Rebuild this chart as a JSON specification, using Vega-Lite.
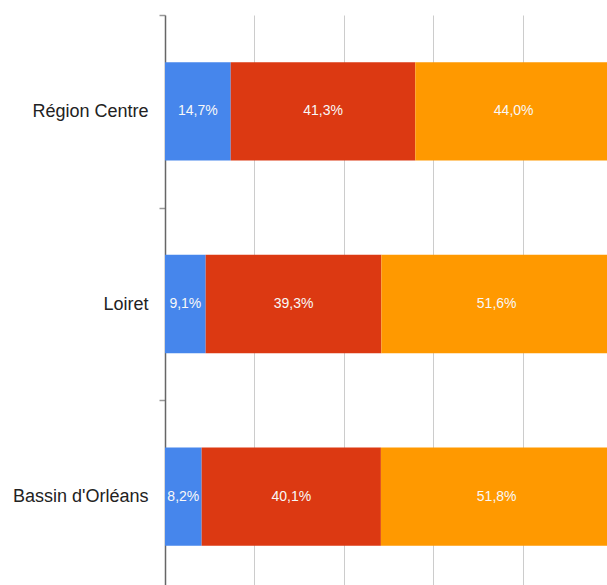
{
  "$schema": "https://vega.github.io/schema/vega-lite/v6.json",
  "autosize": "none",
  "padding": {"left": 165, "top": 15, "right": 0, "bottom": 0},
  "width": 447,
  "height": 578,
  "background": "white",
  "config": {
    "view": {"stroke": null},
    "locale": {"number": {"decimal": ",", "thousands": " ", "grouping": [3], "currency": ["", " €"]}},
    "font": "Liberation Sans"
  },
  "data": {
    "values": [
      {"region": "Région Centre", "part": "A", "k": 1, "value": 0.147},
      {"region": "Région Centre", "part": "B", "k": 2, "value": 0.413},
      {"region": "Région Centre", "part": "C", "k": 3, "value": 0.440},
      {"region": "Loiret", "part": "A", "k": 1, "value": 0.091},
      {"region": "Loiret", "part": "B", "k": 2, "value": 0.393},
      {"region": "Loiret", "part": "C", "k": 3, "value": 0.516},
      {"region": "Bassin d'Orléans", "part": "A", "k": 1, "value": 0.082},
      {"region": "Bassin d'Orléans", "part": "B", "k": 2, "value": 0.401},
      {"region": "Bassin d'Orléans", "part": "C", "k": 3, "value": 0.518}
    ]
  },
  "transform": [
    {"stack": "value", "groupby": ["region"], "sort": [{"field": "k", "order": "ascending"}], "as": ["x0", "x1"]}
  ],
  "encoding": {
    "y": {
      "field": "region", "type": "nominal",
      "sort": ["Région Centre", "Loiret", "Bassin d'Orléans"],
      "scale": {"paddingInner": 0, "paddingOuter": 0},
      "axis": {
        "title": null, "tickBand": "extent", "grid": false,
        "domainColor": "#666666", "domainWidth": 1.5,
        "tickColor": "#999999", "tickSize": 6, "tickWidth": 1.5,
        "labelFontSize": 18, "labelColor": "#222222", "labelPadding": 11,
        "labelFont": "Liberation Sans"
      }
    }
  },
  "layer": [
    {
      "mark": {"type": "bar", "height": {"band": 0.51}},
      "encoding": {
        "x": {
          "field": "x0", "type": "quantitative",
          "scale": {"domain": [0, 1], "nice": false},
          "axis": {
            "title": null, "labels": false, "ticks": false, "domain": false,
            "grid": true, "gridColor": "#cccccc", "gridWidth": 1,
            "values": [0.2, 0.4, 0.6, 0.8, 1]
          }
        },
        "x2": {"field": "x1"},
        "color": {
          "field": "part", "type": "nominal", "legend": null,
          "scale": {"domain": ["A", "B", "C"], "range": ["#4686EC", "#DC3912", "#FF9900"]}
        }
      }
    },
    {
      "mark": {
        "type": "text", "color": "#f8f8f8", "fontSize": 14, "font": "Liberation Sans",
        "baseline": "middle", "align": "center",
        "xOffset": {"expr": "(scale('x', datum.x1) - scale('x', datum.x0)) / 2"}
      },
      "encoding": {
        "x": {"field": "x0", "type": "quantitative"},
        "text": {"field": "value", "type": "quantitative", "format": ".1%"}
      }
    }
  ]
}
